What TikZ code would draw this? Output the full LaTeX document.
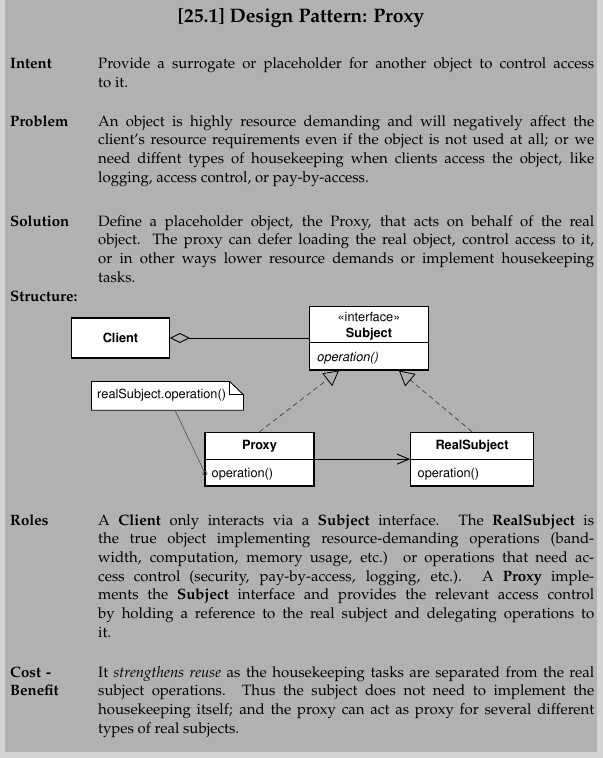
\documentclass[tikz,border=0pt]{standalone}
\usepackage[T1]{fontenc}
\usepackage{mathpazo}
\usepackage{helvet}
\usetikzlibrary{arrows.meta,calc}

\definecolor{panelgray}{RGB}{177,177,177}
\definecolor{edgegray}{RGB}{212,212,212}
\definecolor{linkgray}{RGB}{80,80,80}

\newcommand{\bodyfont}{\fontsize{15bp}{18.7bp}\selectfont}
\newcommand{\umlfont}{\fontsize{12.75bp}{15bp}\selectfont\sffamily}

\tikzset{
  sectlabel/.style={anchor=base west, inner sep=0pt, text width=86bp, align=left, font=\bodyfont\bfseries},
  sectbody/.style={anchor=base west, inner sep=0pt, text width=496bp, align=justify, font=\bodyfont,
    execute at begin node={\tolerance=10000\hyphenpenalty=10000\emergencystretch=20bp}},
  umlbox/.style={draw, fill=white, line width=1.1bp, inner sep=0pt},
  umltext/.style={inner sep=0pt, font=\umlfont},
  umlline/.style={line width=0.9bp},
  realizes/.style={line width=0.6bp, black!80, dash pattern=on 5bp off 3.5bp, -{Triangle[open, length=15bp, width=16bp, line width=0.8bp, black]}},
  aggline/.style={umlline, {Diamond[open, length=20bp, width=10bp, line width=0.9bp]}-},
  calls/.style={umlline, -{Straight Barb[length=12bp, width=10bp, line width=0.9bp]}},
  notelink/.style={line width=0.6bp, linkgray, -{Circle[open, length=5bp, width=5bp, line width=0.7bp]}}
}

\begin{document}
\begin{tikzpicture}[x=1bp, y=-1bp]
\useasboundingbox (0,0) rectangle (603,758);
\fill[edgegray] (0,0) rectangle (603,758);
\fill[panelgray] (5,0) rectangle (597,752);

\node[anchor=base, inner sep=0pt, font=\fontsize{19.5bp}{22bp}\selectfont\bfseries] (title) at (301,23) {[25.1] Design Pattern: Proxy};

\node[sectlabel] (intent) at (10,69) {Intent};
\node[sectbody] (intentbody) at (98,69) {Provide a surrogate or placeholder for another object to control access\linebreak
to it.};

\node[sectlabel] (problem) at (10,126) {Problem};
\node[sectbody] (problembody) at (98,126) {An object is highly resource demanding and will negatively affect the\linebreak
client's resource requirements even if the object is not used at all; or we\linebreak
need diffent types of housekeeping when clients access the object, like\linebreak
logging, access control, or pay-by-access.};

\node[sectlabel] (solution) at (10,226) {Solution};
\node[sectbody] (solutionbody) at (98,226) {Define a placeholder object, the Proxy, that acts on behalf of the real\linebreak
object. The proxy can defer loading the real object, control access to it,\linebreak
or in other ways lower resource demands or implement housekeeping\linebreak
tasks.};

\node[sectlabel] (structure) at (10,301) {Structure:};

\node[umlbox, minimum width=97.6bp, minimum height=40bp, font=\umlfont\bfseries] (client) at (120.5,338) {Client};
\node[umlbox, minimum width=118.6bp, minimum height=63.3bp] (subject) at (369,338.35) {};
\draw[umlline] ($(subject.north west)+(0,36)$) -- ($(subject.north east)+(0,36)$);
\node[umltext, anchor=base] (stereo) at (369,321.5) {\guillemotleft{}interface\guillemotright};
\node[umltext, anchor=base, font=\umlfont\bfseries] (subjectname) at (369,337) {Subject};
\node[umltext, anchor=base west, font=\umlfont\itshape] (subjectop) at (316.5,361) {operation()};

\node[umlbox, minimum width=109bp, minimum height=53.7bp] (proxy) at (259.5,459.15) {};
\draw[umlline] (proxy.west) -- (proxy.east);
\node[umltext, anchor=base, font=\umlfont\bfseries] (proxyname) at (259.5,449) {Proxy};
\node[umltext, anchor=base west] (proxyop) at (211.5,477) {operation()};

\node[umlbox, minimum width=122.6bp, minimum height=53.7bp] (realsubject) at (472,459.15) {};
\draw[umlline] (realsubject.west) -- (realsubject.east);
\node[umltext, anchor=base, font=\umlfont\bfseries] (realname) at (472,449) {RealSubject};
\node[umltext, anchor=base west] (realop) at (417.5,477) {operation()};

\node[minimum width=151.6bp, minimum height=28.3bp, inner sep=0pt] (note) at (167.5,395.85) {};
\draw[umlline, fill=white] (note.north west) -- ($(note.north east)+(-13.8,0)$) -- ($(note.north east)+(0,13.3)$) -- (note.south east) -- (note.south west) -- cycle;
\draw[umlline] ($(note.north east)+(-13.8,0)$) |- ($(note.north east)+(0,13.3)$);
\node[umltext, anchor=base west] (notetext) at (97,398.5) {realSubject.operation()};

\coordinate (subjectleft) at ($(subject.south west)!0.25!(subject.south east)$);
\coordinate (subjectright) at ($(subject.south west)!0.75!(subject.south east)$);
\coordinate (opport) at (206,475.5);

\draw[aggline] (client.east) -- (subject.west |- client.east);
\draw[realizes] (proxy.north) -- (subjectleft);
\draw[realizes] (realsubject.north) -- (subjectright);
\draw[calls] (proxy.east) -- (realsubject.west);
\draw[notelink] ($(note.south)+(7.5,0)$) -- (opport);

\node[sectlabel] (roles) at (10,525) {Roles};
\node[sectbody] (rolesbody) at (98,525) {A \textbf{Client} only interacts via a \textbf{Subject} interface.  The \textbf{RealSubject} is\linebreak
the true object implementing resource-demanding operations (band-\linebreak
width, computation, memory usage, etc.)  or operations that need ac-\linebreak
cess control (security, pay-by-access, logging, etc.).  A \textbf{Proxy} imple-\linebreak
ments the \textbf{Subject} interface and provides the relevant access control\linebreak
by holding a reference to the real subject and delegating operations to\linebreak
it.};

\node[sectlabel] (costbenefit) at (10,677) {Cost -\\Benefit};
\node[sectbody] (costbody) at (98,677) {It \emph{strengthens reuse} as the housekeeping tasks are separated from the real\linebreak
subject operations.  Thus the subject does not need to implement the\linebreak
housekeeping itself; and the proxy can act as proxy for several different\linebreak
types of real subjects.};
\end{tikzpicture}
\end{document}
